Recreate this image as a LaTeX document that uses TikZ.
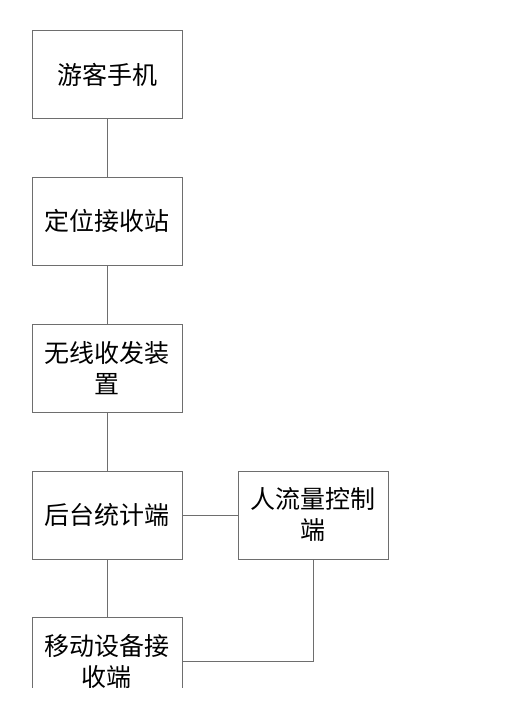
\documentclass[tikz,border=0pt]{standalone}
\usepackage{fontspec}
\newfontfamily\cjk{Noto Sans CJK SC}
\definecolor{linegray}{RGB}{110,110,110}
\tikzset{
  box/.style={draw=linegray, line width=0.9pt, minimum width=150pt, minimum height=88pt, inner sep=0pt, align=center, font=\cjk\fontsize{25}{31}\selectfont, text=black},
  conn/.style={draw=linegray, line width=0.9pt}
}
\begin{document}
\begin{tikzpicture}[x=1pt,y=1pt]
\useasboundingbox (0,0) rectangle (504,713);
\clip (0,25) rectangle (504,713);
\node[box] (b1) at (107,638.5) {游客手机};
\node[box] (b2) at (107,492) {定位接收站};
\node[box] (b3) at (107,345) {无线收发装\\置};
\node[box] (b4) at (107,198) {后台统计端};
\node[box] (r) at (313,198) {人流量控制\\端};
\node[box] (b5) at (107,51.5) {移动设备接\\收端};
\draw[conn] (b1.south) -- (b2.north);
\draw[conn] (b2.south) -- (b3.north);
\draw[conn] (b3.south) -- (b4.north);
\draw[conn] (b4.south) -- (b5.north);
\draw[conn] (b4.east) -- (r.west);
\draw[conn] (r.south) |- (b5.east);
\end{tikzpicture}
\end{document}
